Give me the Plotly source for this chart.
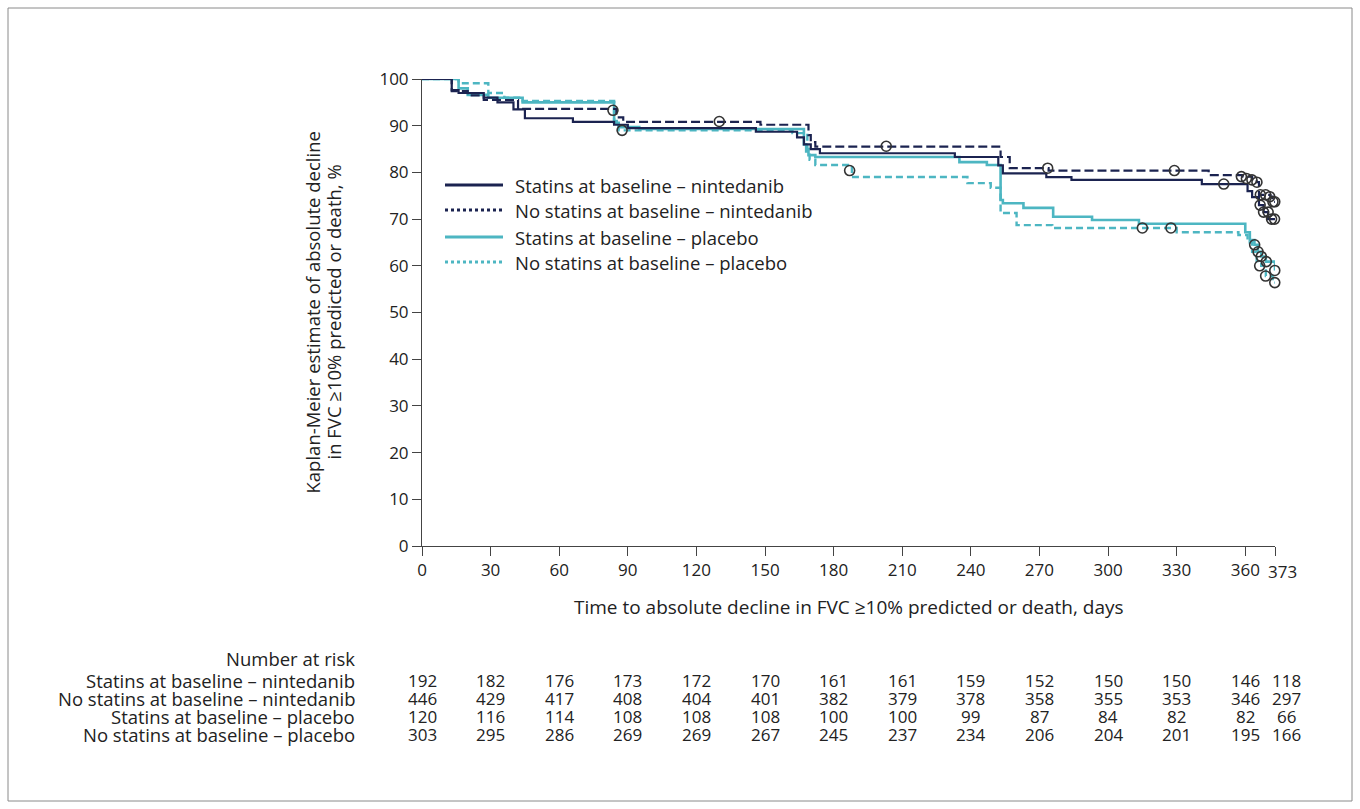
import plotly.graph_objects as go

# ---------------- data ----------------
# Kaplan-Meier step curves (time in days, estimate in %)
statins_nin_t = [0, 13, 16, 27, 33, 40, 45, 66, 84, 90, 146, 164, 167, 170, 174, 233, 252, 254, 273, 284, 341, 361, 363, 366, 368, 370, 373]
statins_nin_s = [100, 97.6, 97.0, 96.0, 95.0, 93.5, 91.6, 90.8, 90.2, 89.5, 88.7, 87.5, 86.0, 85.0, 84.1, 83.3, 81.5, 79.8, 79.0, 78.4, 77.5, 76.0, 74.7, 73.0, 71.5, 70.0, 70.0]
statins_nin_cens_t = [350.6, 366.5, 368.0, 370.0, 371.5, 372.8]
statins_nin_cens_s = [77.5, 73.0, 71.5, 71.5, 70.0, 70.0]

nostatins_nin_t = [0, 13, 20, 27, 42, 85, 88, 148, 169, 170, 172, 253, 257, 274, 344, 359, 363, 365, 366, 371, 372, 373]
nostatins_nin_s = [100, 97.4, 96.5, 95.5, 93.6, 91.8, 90.8, 90.2, 88.0, 86.5, 85.5, 83.3, 80.9, 80.4, 79.4, 79.1, 78.4, 77.9, 75.2, 74.8, 73.7, 73.7]
nostatins_nin_cens_t = [83.5, 130, 203, 273.6, 329, 358.3, 360.5, 362.9, 365.1, 366.6, 368.9, 370.7, 372.1, 372.9]
nostatins_nin_cens_s = [93.3, 90.9, 85.6, 80.9, 80.4, 79.1, 78.7, 78.4, 77.9, 75.2, 75.2, 74.8, 73.7, 73.7]

statins_pbo_t = [0, 16, 20, 29, 44, 84, 86, 95, 167, 168, 169, 172, 235, 247, 253, 254, 263, 276, 293, 313.5, 360, 362, 364, 365.5, 367, 369, 373]
statins_pbo_s = [100, 98.0, 96.6, 96.0, 95.0, 90.6, 89.7, 89.3, 86.0, 84.5, 83.7, 83.3, 82.2, 81.6, 74.1, 73.4, 72.4, 70.5, 69.8, 69.0, 67.2, 65.5, 64.5, 63.0, 62.0, 60.9, 59.0]
statins_pbo_cens_t = [364.1, 365.6, 367.0, 369.2, 372.9]
statins_pbo_cens_s = [64.5, 63.0, 62.0, 60.9, 59.0]

nostatins_pbo_t = [0, 16, 29, 36, 44, 84, 86, 162, 168.5, 169.5, 172, 188, 238.5, 248.7, 253, 260, 275.6, 330, 357, 361, 363, 365, 367, 369, 372, 373]
nostatins_pbo_s = [100, 99.1, 97.0, 96.0, 95.3, 91.0, 89.0, 88.4, 85.0, 82.7, 81.6, 79.0, 77.7, 76.7, 71.3, 68.7, 68.1, 67.2, 66.6, 65.0, 63.0, 61.0, 60.0, 57.8, 56.4, 56.4]
nostatins_pbo_cens_t = [87.5, 187, 315, 327.5, 366.3, 368.9, 372.9]
nostatins_pbo_cens_s = [89.0, 80.4, 68.1, 68.1, 60.0, 57.8, 56.4]

series_names = ["Statins at baseline \u2013 nintedanib",
                "No statins at baseline \u2013 nintedanib",
                "Statins at baseline \u2013 placebo",
                "No statins at baseline \u2013 placebo"]

y_title_lines = ["Kaplan-Meier estimate of absolute decline",
                 "in FVC \u226510% predicted or death, %"]
x_title = "Time to absolute decline in FVC \u226510% predicted or death, days"

x_ticks = [0, 30, 60, 90, 120, 150, 180, 210, 240, 270, 300, 330, 360, 373]
y_ticks = [0, 10, 20, 30, 40, 50, 60, 70, 80, 90, 100]

risk_times = [0, 30, 60, 90, 120, 150, 180, 210, 240, 270, 300, 330, 360, 373]
risk_statins_nin = [192, 182, 176, 173, 172, 170, 161, 161, 159, 152, 150, 150, 146, 118]
risk_nostatins_nin = [446, 429, 417, 408, 404, 401, 382, 379, 378, 358, 355, 353, 346, 297]
risk_statins_pbo = [120, 116, 114, 108, 108, 108, 100, 100, 99, 87, 84, 82, 82, 66]
risk_nostatins_pbo = [303, 295, 286, 269, 269, 267, 245, 237, 234, 206, 204, 201, 195, 166]

# ---------------- styling / layout helpers ----------------
NAVY = "#1b2350"
CYAN = "#4db6c2"
TXT = "#222222"
FONT = "Open Sans"
FS_TEXT = 18.5
FS_NUM = 17

W, H = 1360, 809
L, R, T, B = 422, 1275, 79, 546


def px(xp):
    return (xp - L) / (R - L)


def py(yp):
    return (B - yp) / (B - T)


fig = go.Figure()

curves = [
    (statins_pbo_t, statins_pbo_s, CYAN, 2.6, "solid"),
    (nostatins_pbo_t, nostatins_pbo_s, CYAN, 2.4, "7px,4px"),
    (statins_nin_t, statins_nin_s, NAVY, 2.2, "solid"),
    (nostatins_nin_t, nostatins_nin_s, NAVY, 2.2, "9px,4px"),
]
for t, s, c, w, d in curves:
    fig.add_trace(go.Scatter(x=t, y=s, mode="lines",
                             line=dict(shape="hv", color=c, width=w, dash=d),
                             showlegend=False, cliponaxis=False, hoverinfo="skip"))

for ct, cs in [(statins_pbo_cens_t, statins_pbo_cens_s),
               (nostatins_pbo_cens_t, nostatins_pbo_cens_s),
               (statins_nin_cens_t, statins_nin_cens_s),
               (nostatins_nin_cens_t, nostatins_nin_cens_s)]:
    fig.add_trace(go.Scatter(x=ct, y=cs, mode="markers",
                             marker=dict(symbol="circle-open", size=10, color="#333333",
                                         line=dict(width=1.6, color="#333333")),
                             showlegend=False, cliponaxis=False, hoverinfo="skip"))

shapes = []
annotations = []

# manual legend
leg_rows = [185, 210, 237, 262]
leg_styles = [(NAVY, 3, "solid"), (NAVY, 3, "dot"), (CYAN, 3, "solid"), (CYAN, 3, "dot")]
for yp, (c, w, d), name in zip(leg_rows, leg_styles, series_names):
    shapes.append(dict(type="line", xref="paper", yref="paper",
                       x0=px(445), x1=px(503), y0=py(yp), y1=py(yp),
                       line=dict(color=c, width=w, dash=d)))
    annotations.append(dict(text=name, xref="paper", yref="paper", x=px(513), y=py(yp),
                            xanchor="left", yanchor="middle", showarrow=False,
                            font=dict(size=FS_TEXT, color=TXT, family=FONT)))

# axis titles
for xp, line in zip([312, 333], y_title_lines):
    annotations.append(dict(text=line, xref="paper", yref="paper", x=px(xp), y=0.5, textangle=-90,
                            xanchor="center", yanchor="middle", showarrow=False,
                            font=dict(size=FS_TEXT, color=TXT, family=FONT)))
annotations.append(dict(text=x_title, xref="paper", yref="paper", x=0.5, y=py(607),
                        xanchor="center", yanchor="middle", showarrow=False,
                        font=dict(size=19, color=TXT, family=FONT)))

# custom label for the last x tick (offset right as in the original)
annotations.append(dict(text="373", xref="x", yref="paper", x=373, y=py(571),
                        xanchor="center", yanchor="middle", showarrow=False, xshift=7,
                        font=dict(size=FS_NUM, color=TXT, family=FONT)))

# number at risk table
annotations.append(dict(text="Number at risk", xref="paper", yref="paper", x=px(357), y=py(658),
                        xanchor="right", yanchor="middle", showarrow=False,
                        font=dict(size=FS_TEXT, color=TXT, family=FONT)))
risk_rows = [risk_statins_nin, risk_nostatins_nin, risk_statins_pbo, risk_nostatins_pbo]
row_y = [680, 698, 716, 734]
for name, vals, yp in zip(series_names, risk_rows, row_y):
    annotations.append(dict(text=name, xref="paper", yref="paper", x=px(357), y=py(yp),
                            xanchor="right", yanchor="middle", showarrow=False,
                            font=dict(size=FS_TEXT, color=TXT, family=FONT)))
    for tt, v in zip(risk_times, vals):
        annotations.append(dict(text=str(v), xref="x", yref="paper", x=tt, y=py(yp),
                                xanchor="center", yanchor="middle", showarrow=False,
                                xshift=11 if tt == 373 else 0,
                                font=dict(size=FS_NUM, color=TXT, family=FONT)))

# outer frame
shapes.append(dict(type="rect", xref="paper", yref="paper",
                   x0=px(8), x1=px(1352), y0=py(801), y1=py(8),
                   line=dict(color="#8a8a8a", width=1), fillcolor="rgba(0,0,0,0)", layer="below"))

fig.update_layout(
    width=W, height=H,
    margin=dict(l=L, r=W - R, t=T, b=H - B, pad=0),
    paper_bgcolor="white", plot_bgcolor="white",
    font=dict(family=FONT, size=FS_NUM, color=TXT),
    shapes=shapes, annotations=annotations,
    showlegend=False,
)
fig.update_xaxes(range=[0, 373], tickvals=x_ticks,
                 ticktext=[str(v) if v != 373 else "" for v in x_ticks],
                 showline=True, linecolor="#444444", linewidth=1, ticks="outside",
                 ticklen=9, tickcolor="#444444", showgrid=False, zeroline=False,
                 tickfont=dict(size=FS_NUM, color=TXT, family=FONT))
fig.update_yaxes(range=[0, 100], tickvals=y_ticks,
                 showline=True, linecolor="#444444", linewidth=1, ticks="outside",
                 ticklen=9, tickcolor="#444444", showgrid=False, zeroline=False,
                 tickfont=dict(size=FS_NUM, color=TXT, family=FONT))

fig.write_html("out.html")
